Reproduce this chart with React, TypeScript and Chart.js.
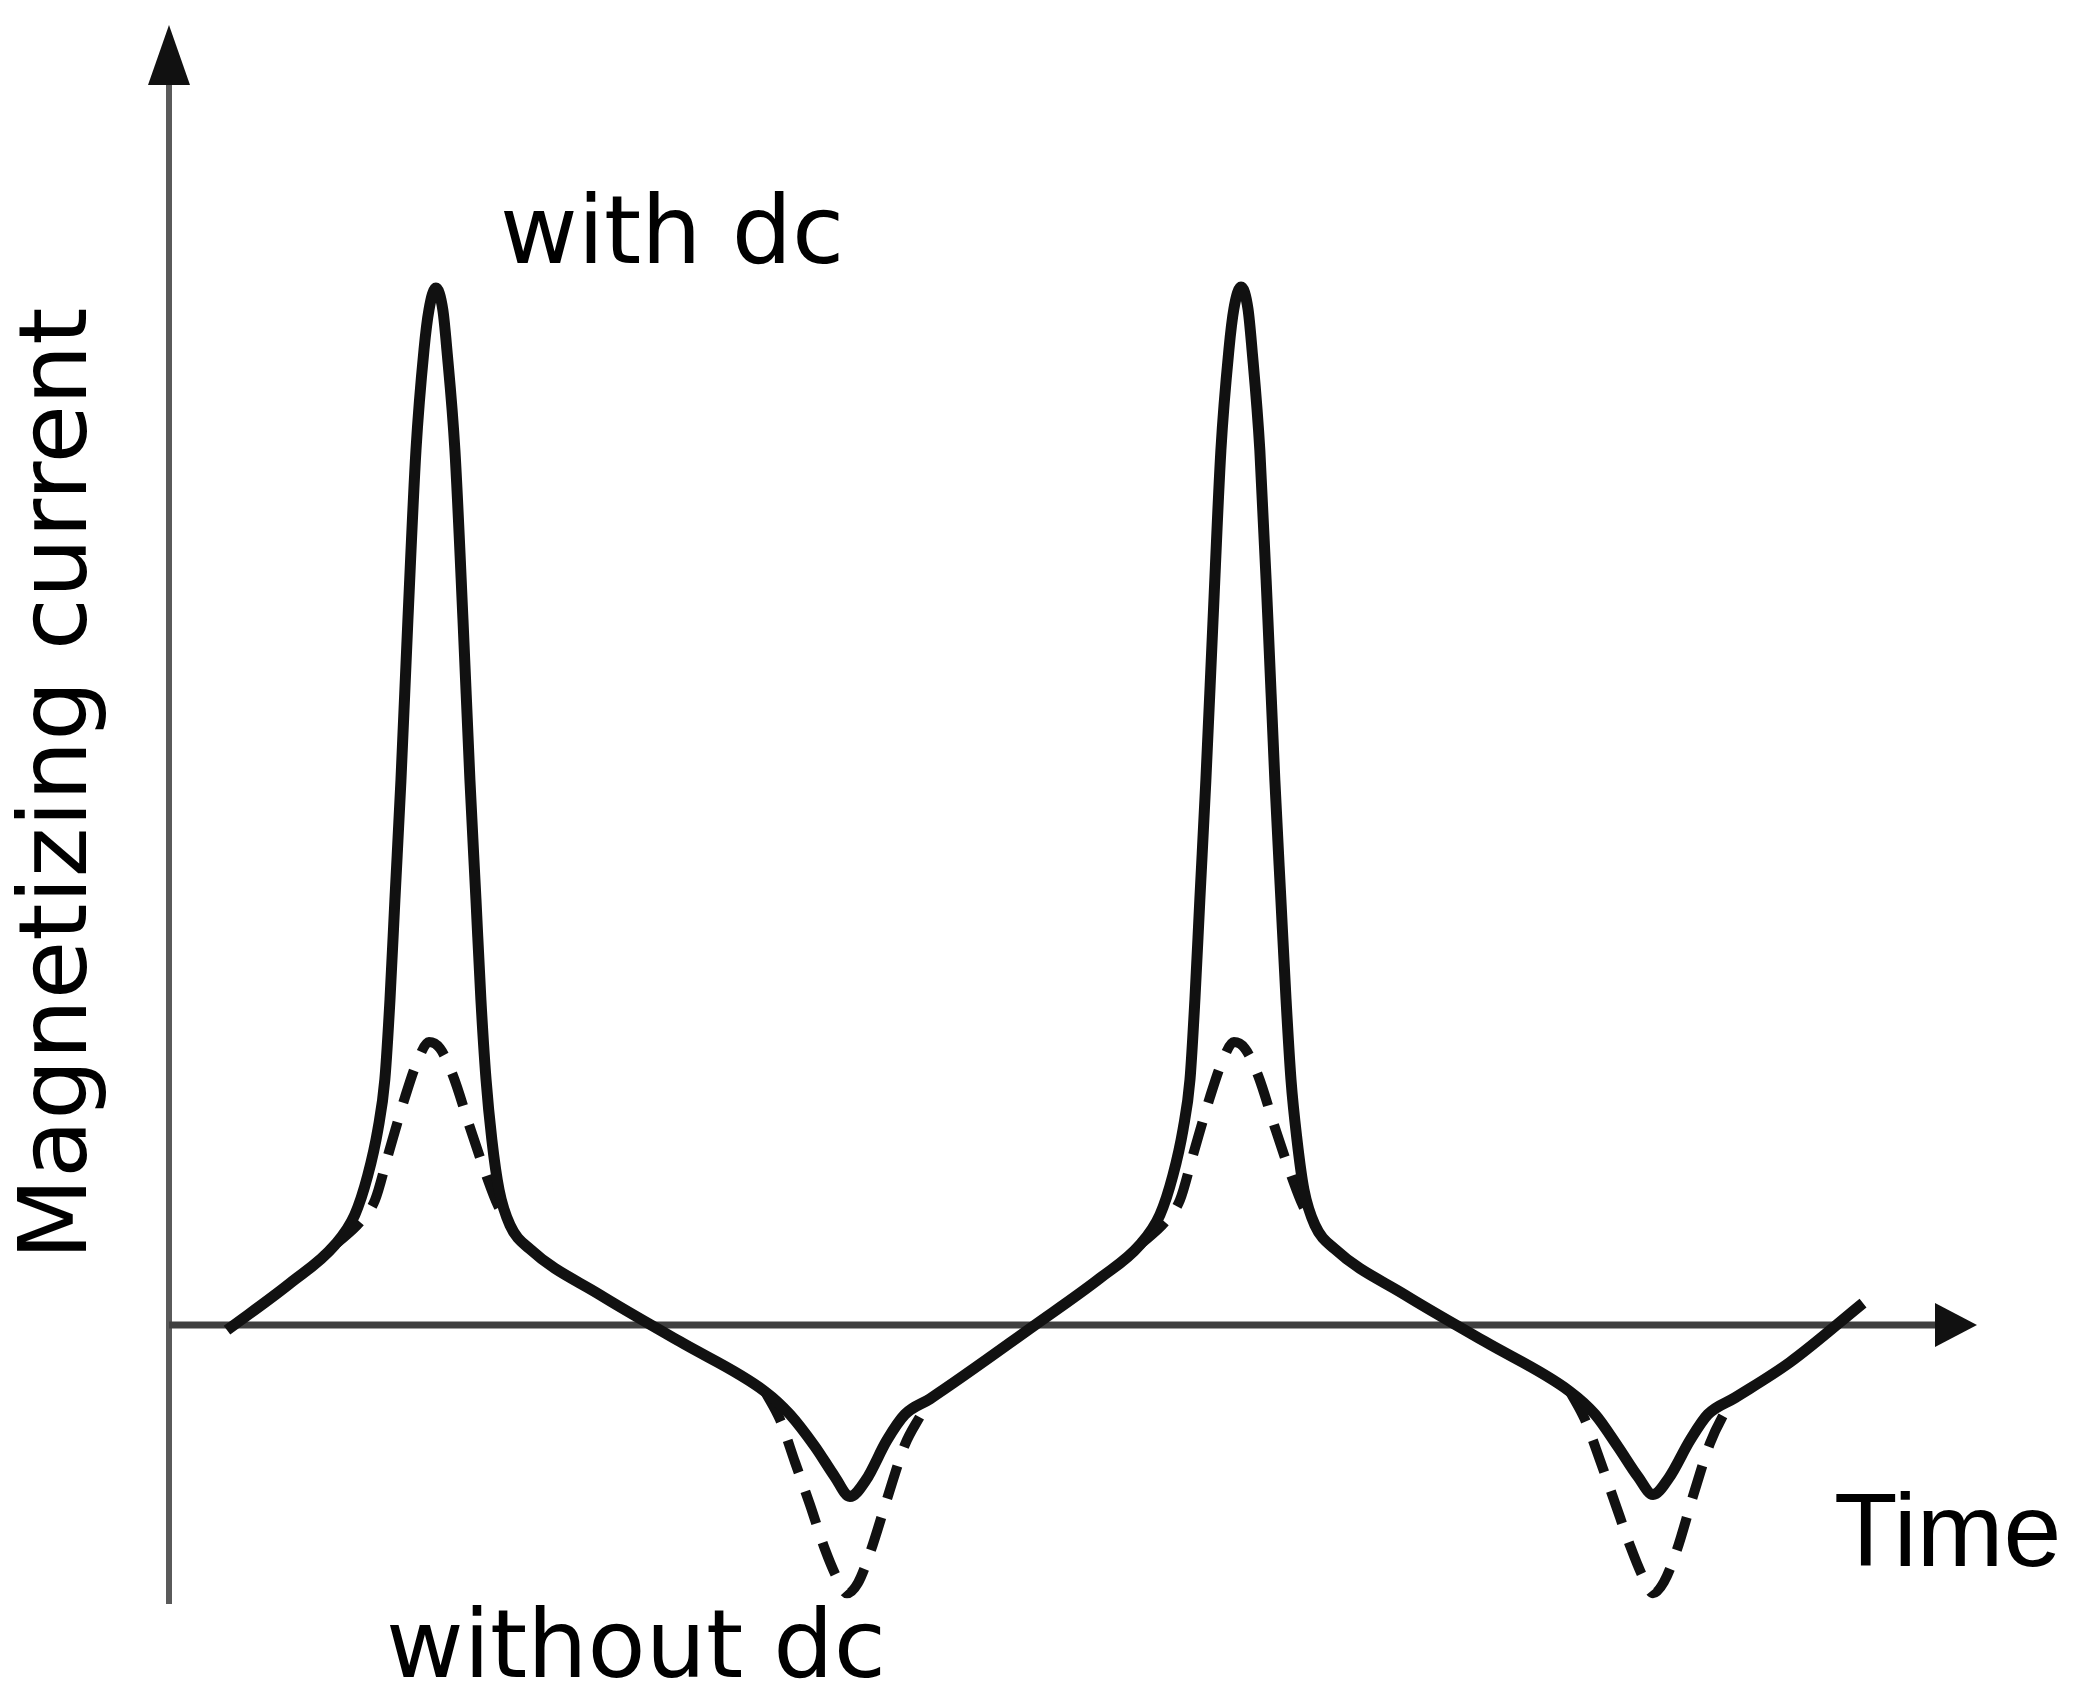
import React, { useEffect, useRef } from "react";
import { Chart, registerables } from "chart.js";

Chart.register(...registerables);

// Electrical angle (degrees) and magnetizing current (arbitrary units)
const withDcAngle = [
  -3.1, 25.0, 45.1, 54.0, 59.8, 64.3, 67.4, 69.7, 71.9, 74.6, 77.7, 81.3, 84.9, 87.1, 90.2,
  93.3, 95.1, 98.7, 102.3, 105.4, 108.1, 110.3, 112.6, 115.2, 118.4, 123.3, 132.2, 163.5, 199.2,
  237.2, 248.3, 259.5, 268.4, 275.1, 282.3, 291.6, 299.7, 310.9, 357.8,
  386.8, 404.6, 413.6, 419.4, 423.9, 427.0, 429.2, 431.4, 434.1, 437.3, 440.8, 444.4, 446.6, 449.8,
  452.9, 454.7, 458.2, 461.8, 464.9, 467.6, 469.9, 472.1, 474.8, 477.9, 482.8, 491.7, 523.0, 558.7,
  596.7, 607.9, 618.1, 627.1, 633.8, 640.9, 650.3, 658.3, 670.4, 694.9, 727.6,
];
const withDcCurrent = [
  -0.05, 0.4, 0.77, 1.06, 1.44, 1.88, 2.36, 3.13, 4.09, 5.24, 6.78, 8.41, 9.38, 9.76, 9.97,
  9.76, 9.38, 8.41, 6.78, 5.24, 4.09, 3.13, 2.36, 1.78, 1.3, 0.96, 0.73, 0.29, -0.16,
  -0.64, -0.86, -1.17, -1.46, -1.65, -1.49, -1.11, -0.86, -0.71, 0.0,
  0.45, 0.77, 1.06, 1.44, 1.88, 2.36, 3.13, 4.09, 5.24, 6.78, 8.41, 9.38, 9.77, 9.98,
  9.77, 9.38, 8.41, 6.78, 5.24, 4.09, 3.13, 2.36, 1.78, 1.3, 0.96, 0.73, 0.29, -0.16,
  -0.64, -0.86, -1.17, -1.46, -1.63, -1.47, -1.11, -0.86, -0.7, -0.36, 0.21,
];

// Only where the "without dc" curve leaves the "with dc" one (null = break in the dashed line)
const withoutDcAngle = [
  45.1, 56.3, 63.0, 68.8, 76.4, 82.2, 87.1, 92.0, 97.8, 105.4, 113.0, 117.9, 123.3,
  180.0,
  237.2, 243.9, 250.6, 257.3, 264.0, 269.3, 273.8, 278.7, 284.1, 291.6, 299.7, 306.4, 310.9,
  360.0,
  404.6, 415.8, 422.5, 428.3, 435.9, 441.7, 446.6, 451.5, 457.4, 464.9, 472.5, 477.4, 482.8,
  540.0,
  596.7, 603.4, 610.1, 616.8, 623.5, 628.8, 633.8, 638.7, 644.5, 651.6, 659.2, 664.6, 670.4,
];
const withoutDcCurrent = [
  0.77, 0.99, 1.2, 1.63, 2.19, 2.55, 2.72, 2.66, 2.4, 1.9, 1.42, 1.15, 0.96,
  null,
  -0.64, -0.91, -1.32, -1.73, -2.16, -2.43, -2.58, -2.48, -2.19, -1.68, -1.15, -0.88, -0.71,
  null,
  0.77, 0.99, 1.2, 1.63, 2.19, 2.55, 2.72, 2.66, 2.4, 1.9, 1.42, 1.15, 0.96,
  null,
  -0.64, -0.91, -1.3, -1.71, -2.12, -2.4, -2.58, -2.47, -2.16, -1.65, -1.14, -0.89, -0.7,
];

const xRange = [-29.0, 778.5];
const yRange = [-2.683, 12.5];

const yAxisTitle = "Magnetizing current";
const xAxisTitle = "Time";
const withDcLabel = "with dc";
const withoutDcLabel = "without dc";

const decorPlugin = {
  id: "decor",
  beforeDatasetsDraw(chart: any) {
    const { ctx, chartArea: a, scales } = chart;
    const y0 = scales.y.getPixelForValue(0);
    ctx.save();
    ctx.lineWidth = 6;
    ctx.strokeStyle = "#5a5a5a";
    ctx.beginPath();
    ctx.moveTo(a.left, a.bottom);
    ctx.lineTo(a.left, a.top + 45);
    ctx.stroke();
    ctx.lineWidth = 7;
    ctx.strokeStyle = "#404040";
    ctx.beginPath();
    ctx.moveTo(a.left, y0);
    ctx.lineTo(a.right - 30, y0);
    ctx.stroke();
    ctx.fillStyle = "#111";
    ctx.beginPath();
    ctx.moveTo(a.left, a.top);
    ctx.lineTo(a.left - 21, a.top + 60);
    ctx.lineTo(a.left + 21, a.top + 60);
    ctx.closePath();
    ctx.fill();
    ctx.beginPath();
    ctx.moveTo(a.right, y0);
    ctx.lineTo(a.right - 42, y0 - 22);
    ctx.lineTo(a.right - 42, y0 + 22);
    ctx.closePath();
    ctx.fill();
    ctx.restore();
  },
  afterDraw(chart: any) {
    const { ctx } = chart;
    ctx.save();
    ctx.fillStyle = "#000";
    ctx.textBaseline = "alphabetic";
    ctx.textAlign = "left";
    ctx.font = '95px "DejaVu Sans"';
    ctx.fillText(withDcLabel, 500, 263);
    ctx.fillText(withoutDcLabel, 386, 1677);
    ctx.save();
    ctx.translate(86, 1260);
    ctx.rotate(-Math.PI / 2);
    ctx.fillText(yAxisTitle, 0, 0);
    ctx.restore();
    ctx.font = '104px "Liberation Sans"';
    ctx.fillText(xAxisTitle, 1834, 1566);
    ctx.restore();
  },
};

export default function App() {
  const ref = useRef<HTMLCanvasElement | null>(null);
  useEffect(() => {
    if (!ref.current) return;
    const chart = new Chart(ref.current, {
      type: "line",
      data: {
        datasets: [
          {
            label: withDcLabel,
            data: withDcAngle.map((x, i) => ({ x, y: withDcCurrent[i] })),
            borderColor: "#111",
            borderWidth: 11,
            borderJoinStyle: "round",
            cubicInterpolationMode: "monotone",
            pointRadius: 0,
            fill: false,
            clip: false as any,
          },
          {
            label: withoutDcLabel,
            data: withoutDcAngle.map((x, i) => ({ x, y: withoutDcCurrent[i] })),
            borderColor: "#111",
            borderWidth: 10,
            borderDash: [34, 20],
            cubicInterpolationMode: "monotone",
            spanGaps: false,
            pointRadius: 0,
            fill: false,
            clip: false as any,
          },
        ],
      },
      options: {
        responsive: false,
        animation: false,
        layout: { padding: { left: 169, right: 113, top: 25, bottom: 104 } },
        scales: {
          x: { type: "linear", min: xRange[0], max: xRange[1], display: false },
          y: { type: "linear", min: yRange[0], max: yRange[1], display: false },
        },
        plugins: { legend: { display: false }, tooltip: { enabled: false } },
        events: [],
      },
      plugins: [decorPlugin],
    } as any);
    return () => chart.destroy();
  }, []);
  return (
    <div style={{ position: "absolute", left: 0, top: 0, width: 2090, height: 1708, background: "#fff" }}>
      <canvas ref={ref} width={2090} height={1708} style={{ display: "block" }} />
    </div>
  );
}
